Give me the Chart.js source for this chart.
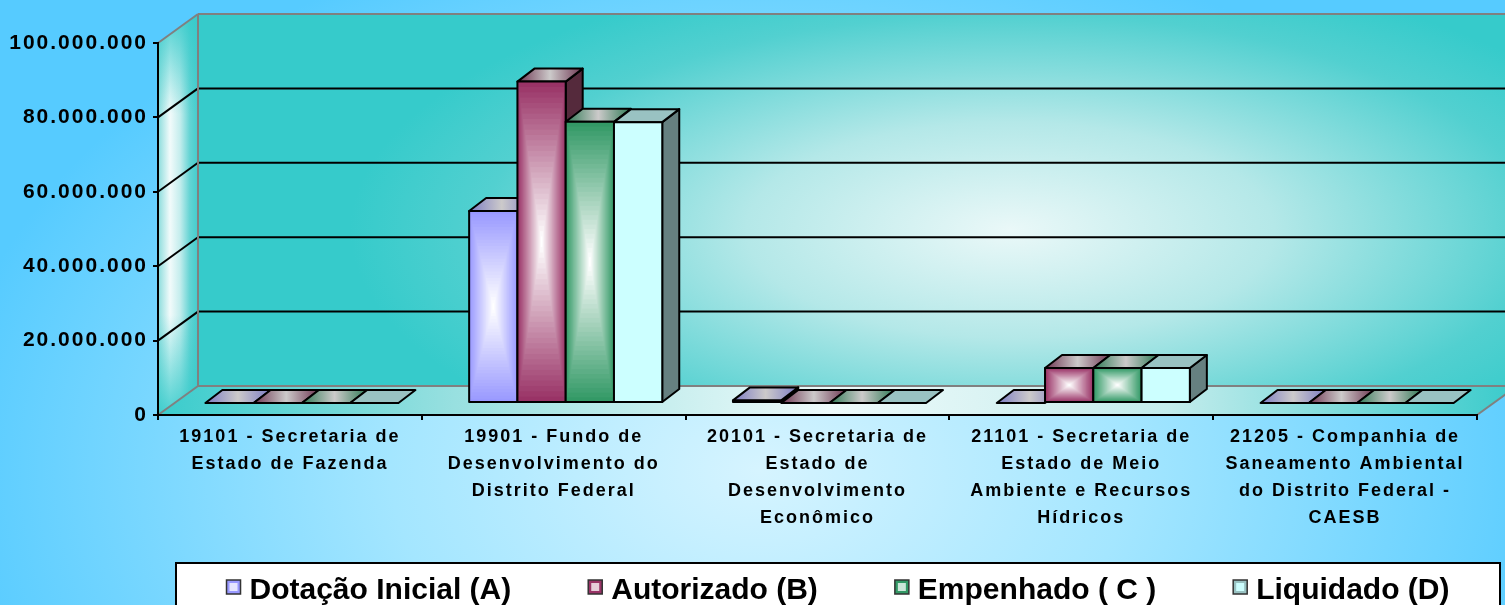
<!DOCTYPE html>
<html>
<head>
<meta charset="utf-8">
<script src="https://cdn.jsdelivr.net/npm/chart.js@4/dist/chart.umd.min.js"></script>
<style>
    html, body { margin: 0; padding: 0; background: #5ccfff; }
    canvas { display: block; }
</style>
</head>
<body>
<canvas id="chart" width="1505" height="605"></canvas>
<script>
const categories = [
    ['19101 - Secretaria de', 'Estado de Fazenda'],
    ['19901 - Fundo de', 'Desenvolvimento do', 'Distrito Federal'],
    ['20101 - Secretaria de', 'Estado de', 'Desenvolvimento', 'Econômico'],
    ['21101 - Secretaria de', 'Estado de Meio', 'Ambiente e Recursos', 'Hídricos'],
    ['21205 - Companhia de', 'Saneamento Ambiental', 'do Distrito Federal -', 'CAESB']
];
const seriesNames = ['Dotação Inicial (A)', 'Autorizado (B)', 'Empenhado ( C )', 'Liquidado (D)'];
const dotacaoInicial = [0, 51600000, 700000, 0, 0];
const autorizado = [0, 86400000, 0, 9400000, 0];
const empenhado = [0, 75600000, 0, 9400000, 0];
const liquidado = [0, 75500000, 0, 9400000, 0];
const yTicks = [0, 20000000, 40000000, 60000000, 80000000, 100000000];

// colours for each series: front face, top face, side face
const boxStyles = [
    { face: '#9999ff', top: '#7c7cc4', side: '#4c4c80', shaded: true },
    { face: '#993366', top: '#6e3652', side: '#552a3c', shaded: true },
    { face: '#339966', top: '#2f7a55', side: '#1f4d38', shaded: true },
    { face: '#ccffff', top: '#99c2c2', side: '#668080', shaded: false }
];

// oblique projection offsets
const WALL_DX = 40, WALL_DY = -29;
const BAR_OX = 12, BAR_OY = -12;
const BAR_DX = 17, BAR_DY = -13;

function hexToRgb(h) {
    const n = parseInt(h.slice(1), 16);
    return [(n >> 16) & 255, (n >> 8) & 255, n & 255];
}
function mix(a, b, t) {
    const p = hexToRgb(a), q = hexToRgb(b);
    return `rgb(${p.map((v, i) => Math.round(v + (q[i] - v) * t)).join(',')})`;
}
function poly(ctx, pts) {
    ctx.beginPath();
    ctx.moveTo(pts[0][0], pts[0][1]);
    for (let i = 1; i < pts.length; i++) ctx.lineTo(pts[i][0], pts[i][1]);
    ctx.closePath();
}
function line(ctx, x1, y1, x2, y2) {
    ctx.beginPath();
    ctx.moveTo(x1, y1);
    ctx.lineTo(x2, y2);
    ctx.stroke();
}
function ellipseFill(ctx, cx, cy, rx, ry, stops, path) {
    ctx.save();
    path();
    ctx.clip();
    ctx.translate(cx, cy);
    ctx.scale(1, ry / rx);
    const g = ctx.createRadialGradient(0, 0, 0, 0, 0, rx);
    stops.forEach(([o, c]) => g.addColorStop(o, c));
    ctx.fillStyle = g;
    ctx.fillRect(-6000, -6000, 12000, 12000);
    ctx.restore();
}
function linearStops(ctx, x0, y0, x1, y1, stops) {
    const g = ctx.createLinearGradient(x0, y0, x1, y1);
    stops.forEach(([o, c]) => g.addColorStop(o, c));
    return g;
}
function formatNumber(v) {
    return String(v).replace(/\B(?=(\d{3})+(?!\d))/g, '.');
}

// background, walls, floor and gridlines behind the bars
const wallsPlugin = {
    id: 'walls',
    beforeDraw(chart) {
        const { ctx, chartArea: a, scales: { y } } = chart;
        const W = chart.width, H = chart.height;
        const L = a.left, R = a.right, T = a.top, B = a.bottom;
        const bl = L + WALL_DX, br = R + WALL_DX, bt = T + WALL_DY, bb = B + WALL_DY;

        ellipseFill(ctx, 760, 470, 820, 560,
            [[0, '#d6f4ff'], [0.45, '#a4e6ff'], [1, '#56cbff']],
            () => { ctx.beginPath(); ctx.rect(0, 0, W, H); });

        // back wall
        ellipseFill(ctx, 1010, 230, 660, 270,
            [[0, '#eaf8f8'], [0.4, '#b4e8e8'], [0.8, '#52d0d0'], [1, '#36cbcb']],
            () => { ctx.beginPath(); ctx.rect(bl, bt, br - bl, bb - bt); });

        // floor
        poly(ctx, [[L, B], [R, B], [br, bb], [bl, bb]]);
        ctx.fillStyle = linearStops(ctx, L, 0, W, 0,
            [[0, '#3acccc'], [0.22, '#98e0e0'], [0.5, '#eefafa'], [0.75, '#c4ecec'], [1, '#3ecccc']]);
        ctx.fill();

        // left side wall
        poly(ctx, [[L, T], [bl, bt], [bl, bb], [L, B]]);
        ctx.fillStyle = linearStops(ctx, L, 0, bl, 0,
            [[0, '#8adcdc'], [0.3, '#f2fbfb'], [0.55, '#c4eded'], [0.8, '#62d3d3'], [1, '#42cccc']]);
        ctx.fill();
        ctx.save();
        poly(ctx, [[L, T], [bl, bt], [bl, bb], [L, B]]);
        ctx.clip();
        ctx.fillStyle = linearStops(ctx, 0, bt, 0, B,
            [[0, 'rgba(54,203,203,0.9)'], [0.25, 'rgba(54,203,203,0)'], [0.75, 'rgba(54,203,203,0)'], [1, 'rgba(54,203,203,0.9)']]);
        ctx.fillRect(L, bt, WALL_DX, B - bt);
        ctx.restore();

        // gridlines on side and back walls
        ctx.save();
        ctx.strokeStyle = '#000';
        ctx.lineWidth = 2;
        y.ticks.forEach(t => {
            if (t.value <= y.min || t.value >= y.max) return;
            const py = y.getPixelForValue(t.value);
            line(ctx, L, py, bl, py + WALL_DY);
            line(ctx, bl, py + WALL_DY, W, py + WALL_DY);
        });

        // wall edges
        ctx.strokeStyle = '#808080';
        line(ctx, L, T, bl, bt);
        line(ctx, bl, bt, W, bt);
        line(ctx, bl, bt, bl, bb);
        line(ctx, bl, bb, W, bb);
        line(ctx, L, B, bl, bb);
        line(ctx, R, B, br, bb);
        ctx.restore();

        ctx.letterSpacing = '2px';
    }
};

function shadedRect(ctx, x, y, w, h, edge) {
    const steps = 30;
    for (let i = 0; i < steps; i++) {
        const k = 1 - i / steps;
        const rw = w * k, rh = h * k;
        ctx.fillStyle = mix(edge, '#ffffff', i / (steps - 1));
        ctx.fillRect(x + (w - rw) / 2, y + (h - rh) / 2, rw, rh);
    }
}

function drawBox(ctx, x0, x1, yt, yb, st) {
    ctx.lineWidth = 2;
    ctx.strokeStyle = '#000';
    ctx.lineJoin = 'round';
    const h = yb - yt;

    if (h > 0.5) {
        // right side
        poly(ctx, [[x1, yt], [x1 + BAR_DX, yt + BAR_DY], [x1 + BAR_DX, yb + BAR_DY], [x1, yb]]);
        ctx.fillStyle = st.side;
        ctx.fill();
        ctx.stroke();
    }

    // top
    poly(ctx, [[x0, yt], [x1, yt], [x1 + BAR_DX, yt + BAR_DY], [x0 + BAR_DX, yt + BAR_DY]]);
    ctx.fillStyle = st.shaded
        ? linearStops(ctx, x0, 0, x1 + BAR_DX, 0, [[0, st.top], [0.5, '#cccaca'], [1, st.top]])
        : st.top;
    ctx.fill();
    ctx.stroke();

    if (h > 0.5) {
        // front
        if (st.shaded) shadedRect(ctx, x0, yt, x1 - x0, h, st.face);
        else { ctx.fillStyle = st.face; ctx.fillRect(x0, yt, x1 - x0, h); }
        ctx.strokeRect(x0, yt, x1 - x0, h);
    }
}

const barsPlugin = {
    id: 'bars3d',
    beforeDatasetDraw() {
        return false;
    },
    afterDatasetsDraw(chart) {
        const ctx = chart.ctx;
        const metas = chart.data.datasets.map((d, i) => chart.getDatasetMeta(i));
        ctx.save();
        ctx.letterSpacing = '0px';
        for (let c = 0; c < categories.length; c++) {
            metas.forEach((meta, s) => {
                const { x, y, base, width } = meta.data[c].getProps(['x', 'y', 'base', 'width'], true);
                const x0 = x - width / 2 + BAR_OX, x1 = x + width / 2 + BAR_OX;
                drawBox(ctx, x0, x1, y + BAR_OY, base + BAR_OY, boxStyles[s]);
            });
        }
        ctx.restore();
    }
};

// boxed legend along the bottom edge
const legendPlugin = {
    id: 'boxLegend',
    afterDraw(chart) {
        const ctx = chart.ctx;
        const box = { left: 176, top: 563, right: 1500, bottom: 620 };
        ctx.save();
        ctx.letterSpacing = '0px';
        ctx.fillStyle = '#ffffff';
        ctx.fillRect(box.left, box.top, box.right - box.left, box.bottom - box.top);
        ctx.strokeStyle = '#000';
        ctx.lineWidth = 2;
        ctx.strokeRect(box.left, box.top, box.right - box.left, box.bottom - box.top);

        ctx.font = 'bold 30px "Liberation Sans", Arial, sans-serif';
        ctx.textBaseline = 'alphabetic';
        const marker = 14, markGap = 9, itemGap = 77;
        const labels = chart.data.datasets.map(d => d.label);
        const widths = labels.map(l => marker + markGap + ctx.measureText(l).width);
        const total = widths.reduce((s, w) => s + w, 0) + itemGap * (labels.length - 1);
        let x = (box.left + box.right) / 2 - total / 2;
        labels.forEach((l, i) => {
            const st = boxStyles[i];
            const my = 580;
            ctx.fillStyle = st.shaded ? st.face : '#99c2c2';
            ctx.fillRect(x, my, marker, marker);
            ctx.fillStyle = st.shaded ? mix(st.face, '#ffffff', 0.75) : st.face;
            ctx.fillRect(x + 3, my + 3, marker - 6, marker - 6);
            ctx.strokeStyle = '#333';
            ctx.lineWidth = 1.5;
            ctx.strokeRect(x, my, marker, marker);
            ctx.fillStyle = '#000';
            ctx.fillText(l, x + marker + markGap, 599);
            x += widths[i] + itemGap;
        });
        ctx.restore();
    }
};

const seriesData = [dotacaoInicial, autorizado, empenhado, liquidado];

new Chart(document.getElementById('chart'), {
    type: 'bar',
    data: {
        labels: categories,
        datasets: seriesData.map((values, i) => ({
            label: seriesNames[i],
            data: values,
            backgroundColor: boxStyles[i].face,
            barPercentage: 1,
            categoryPercentage: 0.732
        }))
    },
    options: {
        responsive: false,
        animation: false,
        events: [],
        layout: { padding: { top: 43, right: 28, left: 0, bottom: 0 } },
        plugins: {
            legend: { display: false },
            tooltip: { enabled: false }
        },
        scales: {
            x: {
                afterFit: scale => { scale.height = 190; },
                grid: { drawOnChartArea: false, tickLength: 5, color: '#000', lineWidth: 2 },
                border: { color: '#000', width: 2 },
                ticks: {
                    autoSkip: false,
                    maxRotation: 0,
                    minRotation: 0,
                    padding: 4,
                    color: '#000',
                    font: { family: '"Liberation Sans", Arial, sans-serif', size: 18, weight: 'bold', lineHeight: 1.5 }
                }
            },
            y: {
                min: 0,
                max: 100000000,
                afterFit: scale => { scale.width = 158; },
                afterBuildTicks: scale => { scale.ticks = yTicks.map(v => ({ value: v })); },
                grid: { drawOnChartArea: false, tickLength: 5, color: '#000', lineWidth: 2 },
                border: { color: '#000', width: 2 },
                ticks: {
                    padding: 5,
                    color: '#000',
                    callback: v => formatNumber(v),
                    font: { family: '"Liberation Sans", Arial, sans-serif', size: 21, weight: 'bold' }
                }
            }
        }
    },
    plugins: [wallsPlugin, barsPlugin, legendPlugin]
});
</script>
</body>
</html>
